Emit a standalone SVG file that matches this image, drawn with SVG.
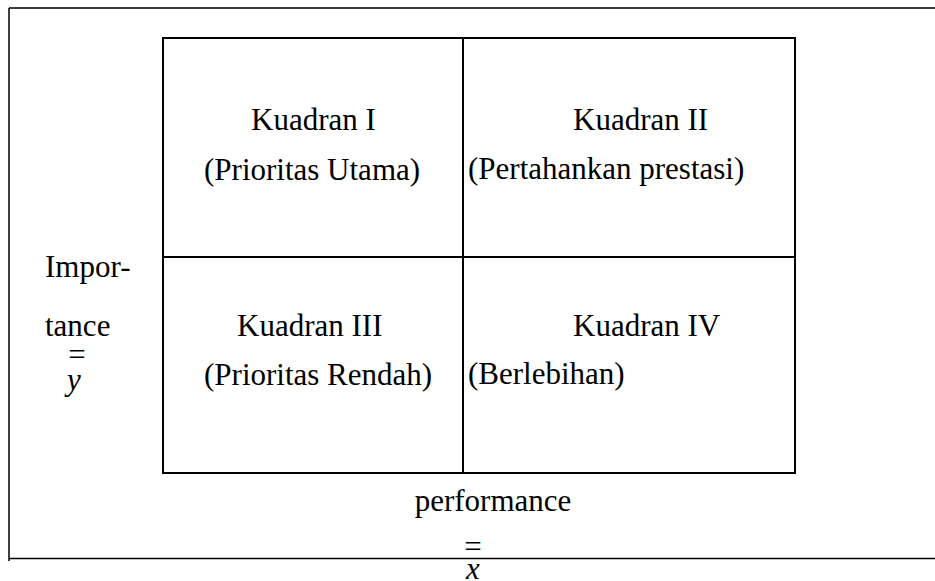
<svg xmlns="http://www.w3.org/2000/svg" width="935" height="581" viewBox="0 0 935 581">
<style>
.t{font-size:31px}
.i{font-style:italic}
.frame{stroke:#000;stroke-width:1.5;fill:none}
.box{stroke:#000;stroke-width:2;fill:none}
</style>
<rect width="935" height="581" fill="#fff"/>
<g id="frame">
<path class="frame" d="M9,8 H935 M9,8 V561 M9,558.5 H935"/>
</g>
<g id="connectors">
<rect class="box" x="163" y="38" width="632" height="435"/>
<line class="box" x1="463" y1="38" x2="463" y2="473"/>
<line class="box" x1="163" y1="257" x2="795" y2="257"/>
</g>
<g font-family="'Liberation Serif', Tinos, 'Times New Roman', 'DejaVu Serif', serif" fill="#000">
<g id="q1"><text class="t" x="251" y="130">Kuadran I</text><text class="t" x="204" y="180">(Prioritas Utama)</text></g>
<g id="q2"><text class="t" x="573" y="130">Kuadran II</text><text class="t" x="468" y="179">(Pertahankan prestasi)</text></g>
<g id="q3"><text class="t" x="237" y="336">Kuadran III</text><text class="t" x="204" y="385">(Prioritas Rendah)</text></g>
<g id="q4"><text class="t" x="573" y="336">Kuadran IV</text><text class="t" x="468" y="384">(Berlebihan)</text></g>
<g id="yaxis"><text class="t" x="45" y="277">Impor-</text><text class="t" x="45" y="336">tance</text><text class="t" x="77" y="365" text-anchor="middle">=</text><text class="t i" x="74" y="390" text-anchor="middle">y</text></g>
<g id="xaxis"><text class="t" x="493" y="511" text-anchor="middle">performance</text><text class="t" x="473" y="557" text-anchor="middle">=</text><text class="t i" x="473" y="579" text-anchor="middle">x</text></g>
</g>
</svg>
